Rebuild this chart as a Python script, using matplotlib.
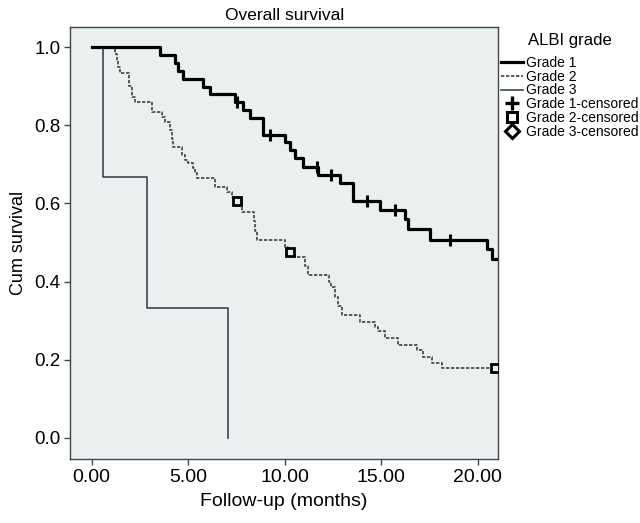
import numpy as np
import matplotlib.pyplot as plt
from matplotlib.lines import Line2D

plt.rcParams['font.family'] = ['Liberation Sans', 'DejaVu Sans']

# Grade 1 (Kaplan-Meier steps)
g1_time = [0, 3.54, 4.32, 4.49, 4.75, 5.78, 6.13, 7.42, 7.86, 8.20, 8.89, 10.02, 10.27,
           10.53, 10.96, 11.74, 12.86, 13.55, 14.94, 16.23, 16.40, 17.53, 20.47, 20.72]
g1_surv = [1.0, 0.980, 0.959, 0.938, 0.918, 0.899, 0.880, 0.861, 0.839, 0.818, 0.776, 0.757, 0.737,
           0.716, 0.694, 0.673, 0.652, 0.605, 0.583, 0.560, 0.535, 0.507, 0.483, 0.457]
g1_end = 21.05
g1_censor = [7.51, 9.24, 11.66, 12.38, 14.25, 15.72, 18.56]

# Grade 2
g2_time = [0, 1.21, 1.30, 1.38, 1.47, 1.95, 2.07, 2.24, 3.15, 3.63, 3.80, 4.06, 4.15, 4.23,
           4.70, 4.85, 5.01, 5.26, 5.35, 5.44, 6.39, 6.99, 7.25, 7.40, 7.77, 8.40, 8.47, 8.55,
           10.02, 10.15, 10.53, 11.05, 11.22, 12.30, 12.40, 12.61, 12.78, 12.95, 13.90, 14.70,
           14.85, 15.20, 15.89, 16.84, 17.18, 17.62, 18.13]
g2_surv = [1.0, 0.983, 0.966, 0.950, 0.933, 0.900, 0.873, 0.861, 0.835, 0.822, 0.809, 0.788, 0.766, 0.745,
           0.724, 0.712, 0.703, 0.690, 0.677, 0.664, 0.643, 0.630, 0.617, 0.605, 0.579, 0.555, 0.530, 0.506,
           0.489, 0.476, 0.462, 0.440, 0.417, 0.400, 0.387, 0.361, 0.338, 0.314, 0.297, 0.284,
           0.272, 0.255, 0.237, 0.225, 0.207, 0.192, 0.178]
g2_end = 20.9
g2_censor = [7.51, 10.27, 20.9]

# Grade 3
g3_time = [0, 0.60, 2.85, 7.08]
g3_surv = [1.0, 0.667, 0.333, 0.0]


def surv_at(times, surv, t):
    i = np.searchsorted(times, t, side='right') - 1
    return np.array(surv)[i]


fig = plt.figure(figsize=(6.4, 5.23), dpi=100)
ax = fig.add_axes([0.1094, 0.1224, 0.6692, 0.826])
ax.set_facecolor('#eceff0')

ax.step(g3_time, g3_surv, where='post', color='#3c4648', lw=1.2, zorder=2)
ax.step(g2_time + [g2_end], g2_surv + [g2_surv[-1]], where='post', color='#404040',
        lw=1.2, ls=(0, (2, 1)), zorder=3)
ax.step(g1_time + [g1_end], g1_surv + [g1_surv[-1]], where='post', color='black',
        lw=2.3, zorder=4)

ax.plot(g1_censor, surv_at(g1_time, g1_surv, g1_censor), ls='none', marker='|',
        ms=8, mew=2.2, color='black', zorder=5)
ax.plot(g2_censor, surv_at(g2_time, g2_surv, g2_censor), ls='none', marker='s',
        ms=6, mew=2, mec='black', mfc='#eceff0', zorder=5)

ax.set_xlim(-1.124, 21.07)
ax.set_ylim(-0.0546, 1.052)
ax.set_xticks([0, 5, 10, 15, 20])
ax.set_xticklabels(['0.00', '5.00', '10.00', '15.00', '20.00'], fontsize=14)
ax.set_yticks([0, 0.2, 0.4, 0.6, 0.8, 1.0])
ax.set_yticklabels(['0.0', '0.2', '0.4', '0.6', '0.8', '1.0'], fontsize=13.5)

for s in ax.spines.values():
    s.set_color('#3d4a4d')
    s.set_linewidth(1.0)
ax.tick_params(direction='out', length=4, width=1, color='#3d4a4d', pad=3)

ax.set_title('Overall survival', fontsize=12.5, pad=5)
ax.set_xlabel('Follow-up (months)', fontsize=14, labelpad=5)
ax.set_ylabel('Cum survival', fontsize=13, labelpad=5)

handles = [
    Line2D([], [], color='black', lw=2.3),
    Line2D([], [], color='#404040', lw=1.2, ls=(0, (2, 1))),
    Line2D([], [], color='#3c4648', lw=1.2),
    Line2D([], [], ls='none', marker='+', ms=10, mew=2.4, color='black'),
    Line2D([], [], ls='none', marker='s', ms=7, mew=2.2, mec='black', mfc='white'),
    Line2D([], [], ls='none', marker='D', ms=7, mew=2.2, mec='black', mfc='white'),
]
labels = ['Grade 1', 'Grade 2', 'Grade 3', 'Grade 1-censored', 'Grade 2-censored', 'Grade 3-censored']
leg = fig.legend(handles, labels, title='ALBI grade', loc='upper left',
                 bbox_to_anchor=(0.778, 0.943), frameon=False, fontsize=10,
                 title_fontsize=12, handlelength=1.6, handletextpad=0.2,
                 labelspacing=-0.02, borderpad=0.2, borderaxespad=0)
leg._legend_box.sep = 6

fig.savefig('out.png', dpi=100)
